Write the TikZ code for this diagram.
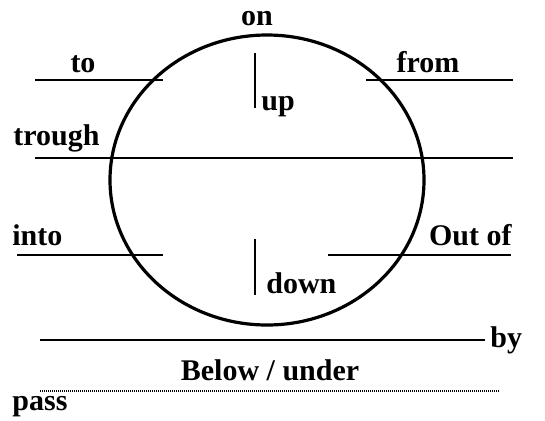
\documentclass[tikz,border=0pt]{standalone}
\usepackage{fontspec}
\setmainfont{Liberation Serif}
\usepackage{xcolor}
\usetikzlibrary{positioning}
\definecolor{ink}{HTML}{000000}

\begin{document}
\begin{tikzpicture}[x=0.5pt,y=0.5pt,
    word/.style={font=\fontsize{15}{18}\selectfont\bfseries,color=ink,inner sep=0pt},
    rule/.style={draw=ink,line width=0.8pt}]
  \useasboundingbox (0,0) rectangle (545,420);
  \draw[ink,line width=1.6pt] (267,240) ellipse [x radius=157,y radius=145];
  % horizontal rules
  \draw[rule] (35,340) -- (163,340);
  \draw[rule] (366,340) -- (513,340);
  \draw[rule] (35,262) -- (513,262);
  \draw[rule] (17,165) -- (163,165);
  \draw[rule] (328,165) -- (511,165);
  \draw[rule] (40,80) -- (485,80);
  \draw[ink,line width=0.6pt,dash pattern=on 0.5pt off 0.5pt] (40,29) -- (500,29);
  % vertical ticks
  \draw[rule] (255,367) -- (255,312);
  \draw[rule] (255,181) -- (255,125);
  % labels
  \node[word,anchor=base] (on) at (257,395) {on};
  \node[word,anchor=base] (to) at (83,348) {to};
  \node[word,anchor=base] (from) at (428,348) {from};
  \node[word,anchor=base west] (up) at (261,310) {up};
  \node[word,anchor=base west] (trough) at (13,275) {trough};
  \node[word,anchor=base west] (into) at (12,175) {into};
  \node[word,anchor=base east] (outof) at (512,175) {Out of};
  \node[word,anchor=base west] (down) at (266,127) {down};
  \node[word,anchor=base west] (by) at (490,73) {by};
  \node[word,anchor=base] (below) at (270,40) {Below / under};
  \node[word,anchor=base west] (pass) at (12,10) {pass};
\end{tikzpicture}
\end{document}
